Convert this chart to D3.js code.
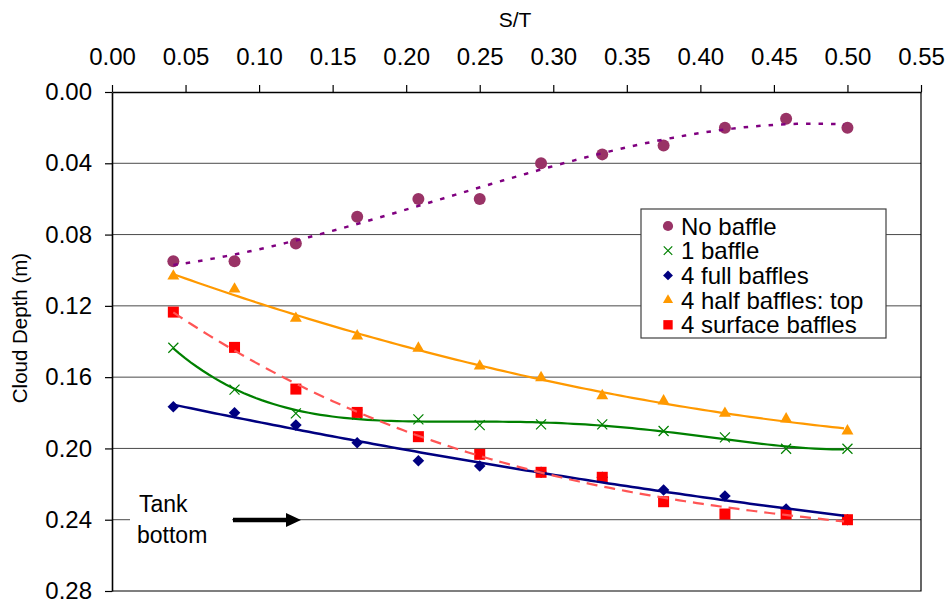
<!DOCTYPE html>
<html>
<head>
<meta charset="utf-8">
<script src="https://cdn.jsdelivr.net/npm/d3@7"></script>
<style>
  body { margin: 0; background: #fff; }
  text { font-family: "Liberation Sans", Arial, sans-serif; fill: #000; }
</style>
</head>
<body>
<div id="chart-container"></div>
<script>
// S/T values (same for every series)
var st = [0.0417, 0.0833, 0.125, 0.1667, 0.2083, 0.25, 0.2917, 0.3333, 0.375, 0.4167, 0.4583, 0.5];

var noBaffle      = [0.095, 0.095, 0.085, 0.070, 0.060, 0.060, 0.040, 0.035, 0.030, 0.020, 0.015, 0.020];
var oneBaffle     = [0.1435, 0.1670, 0.1803, 0.181, 0.1837, 0.1869, 0.1865, 0.1865, 0.1902, 0.1938, 0.2002, 0.2002];
var fullBaffles   = [0.1766, 0.1800, 0.1869, 0.1968, 0.2069, 0.2099, 0.2134, 0.2162, 0.2233, 0.2267, 0.2340, 0.2400];
var halfBaffles   = [0.1033, 0.1106, 0.1270, 0.1369, 0.1438, 0.1538, 0.1603, 0.1704, 0.1734, 0.1803, 0.1835, 0.1902];
var surfBaffles   = [0.1235, 0.1433, 0.1667, 0.1798, 0.1934, 0.2033, 0.2134, 0.2162, 0.2299, 0.2368, 0.2368, 0.2400];

var seriesNames = ["No baffle", "1 baffle", "4 full baffles", "4 half baffles: top", "4 surface baffles"];
var xTicks = [0, 0.05, 0.10, 0.15, 0.20, 0.25, 0.30, 0.35, 0.40, 0.45, 0.50, 0.55];
var yTicks = [0, 0.04, 0.08, 0.12, 0.16, 0.20, 0.24, 0.28];

var width = 949, height = 605;
var margin = { left: 112, right: 921, top: 92, bottom: 591 };

var svg = d3.select("#chart-container")
    .append("svg")
    .attr("width", width)
    .attr("height", height);

var x = d3.scaleLinear().domain([0, 0.55]).range([margin.left, margin.right]);
var y = d3.scaleLinear().domain([0, 0.28]).range([margin.top, margin.bottom]);

// gridlines
svg.append("g")
    .selectAll("line")
    .data(yTicks.slice(1, -1))
    .enter().append("line")
    .attr("x1", margin.left).attr("x2", margin.right)
    .attr("y1", d => y(d)).attr("y2", d => y(d))
    .attr("stroke", "#4a4a4a")
    .attr("stroke-width", 1);

// plot border (right + bottom)
svg.append("path")
    .attr("d", "M" + margin.right + "," + margin.top + "V" + margin.bottom + "H" + margin.left)
    .attr("fill", "none")
    .attr("stroke", "#000")
    .attr("stroke-width", 1.2);

// axes
var xAxis = d3.axisTop(x).tickValues(xTicks).tickFormat(d3.format(".2f"))
    .tickSizeInner(7).tickSizeOuter(0).tickPadding(20);
var yAxis = d3.axisLeft(y).tickValues(yTicks).tickFormat(d3.format(".2f"))
    .tickSizeInner(7).tickSizeOuter(0).tickPadding(13);

var gx = svg.append("g").attr("transform", "translate(0," + margin.top + ")").call(xAxis);
var gy = svg.append("g").attr("transform", "translate(" + margin.left + ",0)").call(yAxis);
[gx, gy].forEach(function (g) {
    g.selectAll("text").style("font-size", "24px").style("font-family", "Liberation Sans, Arial, sans-serif");
    g.selectAll("line").attr("stroke", "#000").attr("stroke-width", 1.2);
    g.select(".domain").attr("stroke", "#000").attr("stroke-width", 1.6);
});
gx.selectAll("text").attr("dy", "0em");

// axis titles
svg.append("text")
    .attr("x", 515).attr("y", 27)
    .attr("text-anchor", "middle")
    .style("font-size", "21px")
    .text("S/T");
svg.append("text")
    .attr("transform", "translate(27,328) rotate(-90)")
    .attr("text-anchor", "middle")
    .style("font-size", "20.5px")
    .text("Cloud Depth (m)");

// tank bottom note
svg.append("rect")
    .attr("x", 130).attr("y", 488).attr("width", 102).attr("height", 62)
    .attr("fill", "#fff");
svg.append("text").attr("x", 139).attr("y", 512).style("font-size", "23px").text("Tank");
svg.append("text").attr("x", 137).attr("y", 543).style("font-size", "23px").text("bottom");
svg.append("line")
    .attr("x1", 233).attr("x2", 289)
    .attr("y1", 520).attr("y2", 520)
    .attr("stroke", "#000").attr("stroke-width", 4.5);
svg.append("path")
    .attr("d", "M286,513L301,520L286,527Z")
    .attr("fill", "#000");

// least squares polynomial fit (Excel-style trendline)
function polyfit(xs, ys, order) {
    var n = order + 1, A = [], b = [];
    for (var i = 0; i < n; i++) {
        A.push([]);
        for (var j = 0; j < n; j++) A[i].push(d3.sum(xs, v => Math.pow(v, i + j)));
        b.push(d3.sum(xs, (v, k) => ys[k] * Math.pow(v, i)));
    }
    for (var c = 0; c < n; c++) {
        var p = c;
        for (var r = c + 1; r < n; r++) if (Math.abs(A[r][c]) > Math.abs(A[p][c])) p = r;
        var t = A[c]; A[c] = A[p]; A[p] = t;
        t = b[c]; b[c] = b[p]; b[p] = t;
        for (var r2 = c + 1; r2 < n; r2++) {
            var f = A[r2][c] / A[c][c];
            for (var k = c; k < n; k++) A[r2][k] -= f * A[c][k];
            b[r2] -= f * b[c];
        }
    }
    var coef = new Array(n).fill(0);
    for (var i2 = n - 1; i2 >= 0; i2--) {
        var s = b[i2];
        for (var k2 = i2 + 1; k2 < n; k2++) s -= A[i2][k2] * coef[k2];
        coef[i2] = s / A[i2][i2];
    }
    return function (v) { return d3.sum(coef, (cf, i) => cf * Math.pow(v, i)); };
}

var series = [
    { name: seriesNames[0], values: noBaffle,    color: "#993366", line: "#800080", order: 3, dash: "4.5,8", lw: 2.5, shape: "circle" },
    { name: seriesNames[1], values: oneBaffle,   color: "#008000", line: "#008000", order: 4, dash: null,   lw: 2.2, shape: "x" },
    { name: seriesNames[2], values: fullBaffles, color: "#000080", line: "#000080", order: 2, dash: null,   lw: 2.5, shape: "diamond" },
    { name: seriesNames[3], values: halfBaffles, color: "#FF9900", line: "#FF9900", order: 2, dash: null,   lw: 2.2, shape: "triangle" },
    { name: seriesNames[4], values: surfBaffles, color: "#FF0000", line: "#FF5555", order: 3, dash: "11,7", lw: 2.2, shape: "square" }
];

function marker(g, shape, color, cx, cy, scale) {
    var s = scale || 1;
    if (shape === "circle") {
        g.append("circle").attr("cx", cx).attr("cy", cy).attr("r", 6 * s).attr("fill", color);
    } else if (shape === "x") {
        var h = 5 * s;
        g.append("path").attr("d", "M" + (cx - h) + "," + (cy - h) + "L" + (cx + h) + "," + (cy + h) +
            "M" + (cx - h) + "," + (cy + h) + "L" + (cx + h) + "," + (cy - h))
            .attr("stroke", color).attr("stroke-width", 1.2).attr("fill", "none");
    } else if (shape === "diamond") {
        var dd = 5.8 * s;
        g.append("path").attr("d", "M" + cx + "," + (cy - dd) + "L" + (cx + dd) + "," + cy +
            "L" + cx + "," + (cy + dd) + "L" + (cx - dd) + "," + cy + "Z")
            .attr("fill", color);
    } else if (shape === "triangle") {
        g.append("path").attr("d", d3.symbol(d3.symbolTriangle, 62 * s * s)())
            .attr("transform", "translate(" + cx + "," + cy + ")").attr("fill", color);
    } else {
        var q = 5.5 * s;
        g.append("rect").attr("x", cx - q).attr("y", cy - q).attr("width", 2 * q).attr("height", 2 * q).attr("fill", color);
    }
}

var markG = svg.append("g");
series.forEach(function (s) {
    s.values.forEach(function (v, i) { marker(markG, s.shape, s.color, x(st[i]), y(v)); });
});

// trendlines on top of markers
var line = d3.line().x(d => x(d[0])).y(d => y(d[1]));
series.forEach(function (s) {
    var fit = polyfit(st, s.values, s.order);
    var pts = d3.range(st[0], st[st.length - 1] + 1e-9, 0.004).map(v => [v, fit(v)]);
    svg.append("path")
        .datum(pts)
        .attr("fill", "none")
        .attr("stroke", s.line)
        .attr("stroke-width", s.lw)
        .attr("stroke-dasharray", s.dash)
        .attr("d", line);
});

// legend
var lg = svg.append("g");
lg.append("rect")
    .attr("x", 641).attr("y", 209).attr("width", 245).attr("height", 129)
    .attr("fill", "#fff").attr("stroke", "#404040").attr("stroke-width", 1.2);
series.forEach(function (s, i) {
    var cy = 226 + i * 24.7;
    marker(lg, s.shape, s.color, 668, cy, 0.85);
    lg.append("text")
        .attr("x", 681).attr("y", cy + 8.5)
        .style("font-size", "24px")
        .text(s.name);
});
</script>
</body>
</html>
